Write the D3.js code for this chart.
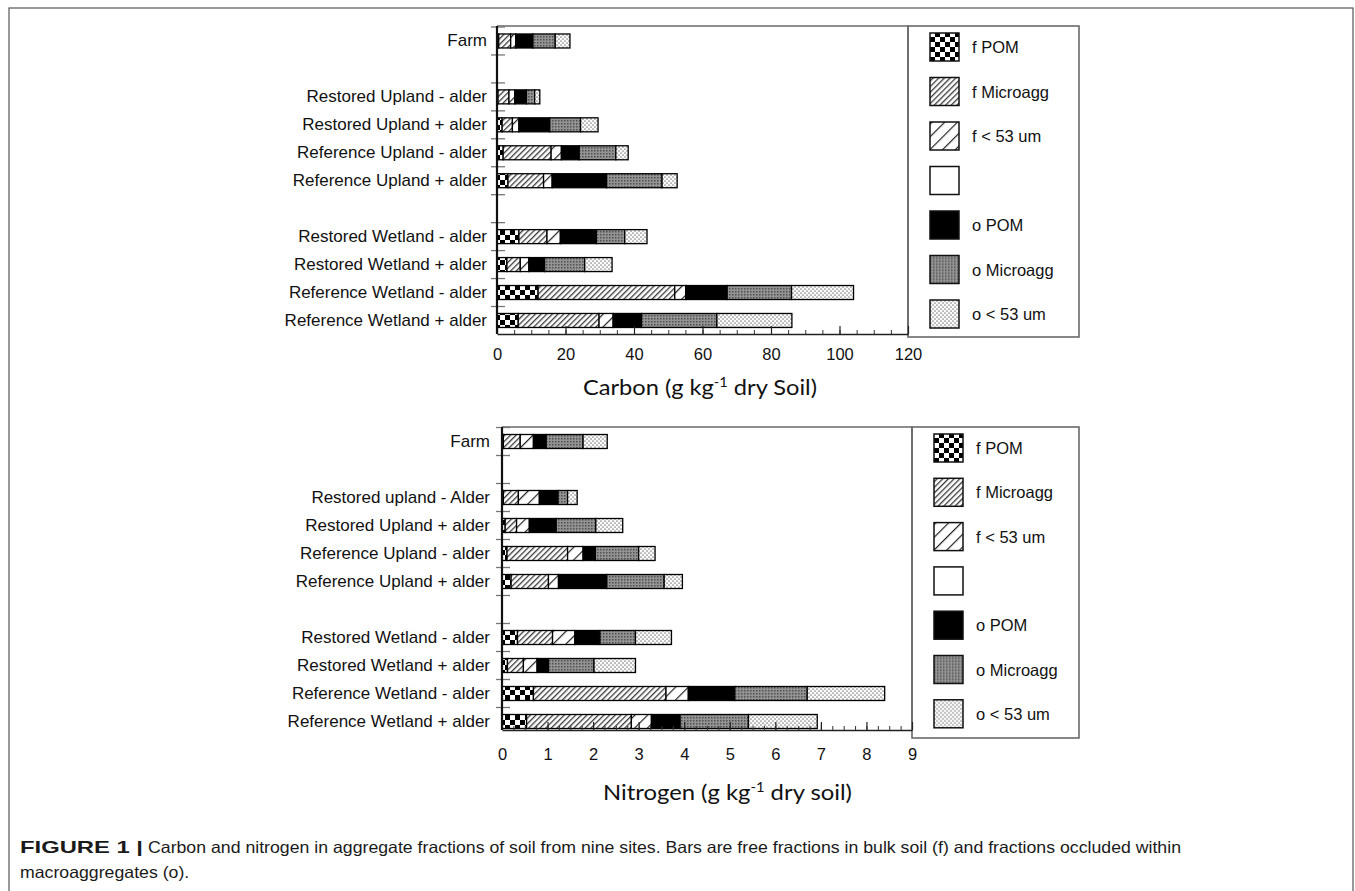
<!DOCTYPE html>
<html>
<head>
<meta charset="utf-8">
<script src="https://cdn.jsdelivr.net/npm/d3@7"></script>
<style>
  body { margin: 0; background: #fff; }
  svg { display: block; }
</style>
</head>
<body>
<svg id="fig" width="1355" height="891"></svg>
<script>
// ---- data -------------------------------------------------------------
const fractionKeys   = ["fPOM", "fMicro", "fSilt", "oPOM", "oMicro", "oSilt"];
const legendKeys     = ["fPOM", "fMicro", "fSilt", "blank", "oPOM", "oMicro", "oSilt"];
const legendLabels   = ["f POM", "f Microagg", "f < 53 um", "", "o POM", "o Microagg", "o < 53 um"];

// site groups (a blank row separates the groups)
const siteGroups = [[0], [1, 2, 3, 4], [5, 6, 7, 8]];

const carbonSites = ["Farm", "Restored Upland - alder", "Restored Upland + alder",
  "Reference Upland - alder", "Reference Upland + alder", "Restored Wetland - alder",
  "Restored Wetland + alder", "Reference Wetland - alder", "Reference Wetland + alder"];
const nitrogenSites = ["Farm", "Restored upland - Alder", "Restored Upland + alder",
  "Reference Upland - alder", "Reference Upland + alder", "Restored Wetland - alder",
  "Restored Wetland + alder", "Reference Wetland - alder", "Reference Wetland + alder"];

// carbon, g kg-1 dry soil
const carbonFPOM   = [0.5, 0.3, 1.5, 1.8, 3.2, 6.4, 2.9, 12.0, 6.2];
const carbonFMicro = [3.5, 3.2, 3.0, 14.0, 10.4, 8.2, 3.9, 39.9, 23.6];
const carbonFSilt  = [1.5, 1.7, 1.9, 3.0, 2.5, 3.9, 2.5, 3.2, 4.1];
const carbonOPOM   = [5.0, 3.4, 9.0, 5.2, 15.9, 10.5, 4.6, 12.1, 8.3];
const carbonOMicro = [6.5, 2.4, 9.0, 10.7, 16.2, 8.3, 11.7, 18.8, 22.0];
const carbonOSilt  = [4.3, 1.5, 5.1, 3.6, 4.4, 6.5, 8.0, 18.1, 21.9];

// nitrogen, g kg-1 dry soil
const nitrogenFPOM   = [0.03, 0.03, 0.07, 0.11, 0.20, 0.34, 0.12, 0.69, 0.54];
const nitrogenFMicro = [0.37, 0.33, 0.25, 1.33, 0.82, 0.77, 0.35, 2.91, 2.30];
const nitrogenFSilt  = [0.29, 0.46, 0.28, 0.34, 0.22, 0.49, 0.30, 0.49, 0.44];
const nitrogenOPOM   = [0.28, 0.41, 0.59, 0.27, 1.06, 0.55, 0.25, 1.02, 0.63];
const nitrogenOMicro = [0.81, 0.21, 0.87, 0.95, 1.26, 0.78, 1.00, 1.59, 1.50];
const nitrogenOSilt  = [0.53, 0.21, 0.59, 0.36, 0.40, 0.79, 0.91, 1.70, 1.51];

const carbonTicks   = [0, 20, 40, 60, 80, 100, 120];
const nitrogenTicks = [0, 1, 2, 3, 4, 5, 6, 7, 8, 9];

const captionBold = "FIGURE 1 |";
const captionLine1 = "Carbon and nitrogen in aggregate fractions of soil from nine sites. Bars are free fractions in bulk soil (f) and fractions occluded within";
const captionLine2 = "macroaggregates (o).";

// ---- drawing ----------------------------------------------------------
const svg = d3.select("#fig");
const LABEL_FONT = "'Liberation Sans', Arial, Helvetica, sans-serif";

// fill patterns for the six fractions
const defs = svg.append("defs");
function pattern(id, w, h, transform) {
  const p = defs.append("pattern").attr("id", "pat-" + id)
    .attr("patternUnits", "userSpaceOnUse").attr("width", w).attr("height", h);
  if (transform) p.attr("patternTransform", transform);
  return p;
}
{
  const p = pattern("fPOM", 10, 10);
  p.append("rect").attr("width", 10).attr("height", 10).attr("fill", "#fff");
  p.append("rect").attr("width", 5).attr("height", 5).attr("fill", "#000");
  p.append("rect").attr("x", 5).attr("y", 5).attr("width", 5).attr("height", 5).attr("fill", "#000");
}
{
  const p = pattern("fMicro", 4, 4, "rotate(45)");
  p.append("rect").attr("width", 4).attr("height", 4).attr("fill", "#fff");
  p.append("rect").attr("width", 1.3).attr("height", 4).attr("fill", "#3a3a3a");
}
{
  const p = pattern("fSilt", 9, 9, "rotate(45)");
  p.append("rect").attr("width", 9).attr("height", 9).attr("fill", "#fff");
  p.append("rect").attr("width", 1.2).attr("height", 9).attr("fill", "#222");
}
{
  const p = pattern("oPOM", 4, 4);
  p.append("rect").attr("width", 4).attr("height", 4).attr("fill", "#000");
}
{
  const p = pattern("oMicro", 3, 3);
  p.append("rect").attr("width", 3).attr("height", 3).attr("fill", "#939393");
  p.append("rect").attr("width", 1.5).attr("height", 1.5).attr("fill", "#505050");
}
{
  const p = pattern("oSilt", 4, 4);
  p.append("rect").attr("width", 4).attr("height", 4).attr("fill", "#fbfbfb");
  p.append("circle").attr("cx", 1).attr("cy", 1).attr("r", 0.85).attr("fill", "#8a8a8a");
  p.append("circle").attr("cx", 3).attr("cy", 3).attr("r", 0.85).attr("fill", "#8a8a8a");
}
{
  const p = pattern("blank", 4, 4);
  p.append("rect").attr("width", 4).attr("height", 4).attr("fill", "#fff");
}

// outer figure frame
svg.append("rect").attr("x", 9).attr("y", 8).attr("width", 1344).attr("height", 910)
  .attr("fill", "none").attr("stroke", "#555").attr("stroke-width", 1.2);

function drawPanel(cfg) {
  const g = svg.append("g");

  // row domain with a spacer row between the site groups
  const domain = [];
  siteGroups.forEach((grp, gi) => {
    if (gi > 0) domain.push("__gap" + gi);
    grp.forEach(i => domain.push(cfg.sites[i]));
  });
  const y = d3.scaleBand().domain(domain)
    .range([cfg.rowTop, cfg.rowTop + domain.length * cfg.rowStep]);
  const x = d3.scaleLinear().domain([0, d3.max(cfg.ticks)]).range([cfg.x0, cfg.x1]);

  const rows = cfg.sites.map((s, i) => {
    const r = { site: s };
    fractionKeys.forEach(k => { r[k] = cfg.values[k][i]; });
    return r;
  });
  const series = d3.stack().keys(fractionKeys)(rows);

  // plot frame (top and right edges) and legend box
  g.append("path")
    .attr("d", `M${cfg.x0},${cfg.frameTop}H${cfg.x1}V${cfg.axisY}`)
    .attr("fill", "none").attr("stroke", "#6a6a6a").attr("stroke-width", 1.6);
  g.append("rect")
    .attr("x", cfg.x1).attr("y", cfg.legendTop)
    .attr("width", cfg.legendRight - cfg.x1).attr("height", cfg.legendBottom - cfg.legendTop)
    .attr("fill", "none").attr("stroke", "#6a6a6a").attr("stroke-width", 1.6);

  // y-axis boundary ticks
  const bounds = d3.range(domain.length + 1).map(i => cfg.rowTop + i * cfg.rowStep)
    .filter(v => v < cfg.axisY - 3);
  g.selectAll("line.ytick").data(bounds).join("line")
    .attr("x1", cfg.x0 - 6).attr("x2", cfg.x0 + 8)
    .attr("y1", d => d).attr("y2", d => d)
    .attr("stroke", "#777").attr("stroke-width", 1.3);

  // stacked bars
  const barH = 14;
  g.selectAll("g.layer").data(series).join("g")
    .attr("fill", d => `url(#pat-${d.key})`)
    .selectAll("rect").data(d => d).join("rect")
    .attr("x", d => x(d[0]))
    .attr("width", d => x(d[1]) - x(d[0]))
    .attr("y", d => y(d.data.site) + (y.bandwidth() - barH) / 2)
    .attr("height", barH)
    .attr("stroke", "#000").attr("stroke-width", 1.3);

  // x axis: major and minor inward ticks
  const minor = d3.range(0, d3.max(cfg.ticks) + 1e-9, cfg.minorStep);
  const gMinor = g.append("g").attr("transform", `translate(0,${cfg.axisY})`)
    .call(d3.axisBottom(x).tickValues(minor).tickSize(-4).tickSizeOuter(0).tickFormat(""));
  gMinor.select(".domain").remove();
  gMinor.selectAll(".tick line").attr("stroke", "#333").attr("stroke-width", 1);

  const gx = g.append("g").attr("transform", `translate(0,${cfg.axisY})`)
    .call(d3.axisBottom(x).tickValues(cfg.ticks).tickSize(-8).tickSizeOuter(0)
      .tickPadding(cfg.tickPad).tickFormat(d3.format("d")));
  gx.select(".domain").attr("stroke", "#222").attr("stroke-width", 1.6);
  gx.selectAll(".tick line").attr("stroke", "#222").attr("stroke-width", 1.2);
  gx.selectAll(".tick text").attr("font-family", LABEL_FONT).attr("font-size", 16.5)
    .attr("fill", "#111");

  // y axis line
  g.append("line").attr("x1", cfg.x0).attr("x2", cfg.x0)
    .attr("y1", cfg.frameTop).attr("y2", cfg.axisY)
    .attr("stroke", "#111").attr("stroke-width", 2.2);

  // site labels
  g.selectAll("text.site").data(cfg.sites).join("text")
    .attr("x", cfg.x0 - cfg.labelGap)
    .attr("y", d => y(d) + y.bandwidth() / 2)
    .attr("text-anchor", "end").attr("dominant-baseline", "central")
    .attr("font-family", LABEL_FONT).attr("font-size", 17).attr("fill", "#111")
    .text(d => d);

  // legend
  const lg = g.selectAll("g.leg").data(legendKeys).join("g")
    .attr("transform", (d, i) => `translate(${cfg.x1 + 22},${cfg.legendTop + 21 + i * cfg.legendStep})`);
  lg.append("rect").attr("x", 0).attr("y", -14).attr("width", 29).attr("height", 28)
    .attr("fill", d => `url(#pat-${d})`).attr("stroke", "#111").attr("stroke-width", 1.5);
  lg.append("text").attr("x", 42).attr("y", 0).attr("dominant-baseline", "central")
    .attr("font-family", LABEL_FONT).attr("font-size", 16.5).attr("fill", "#111")
    .text((d, i) => legendLabels[i]);

  // axis title with superscript unit
  const t = g.append("text").attr("x", cfg.titleX).attr("y", cfg.titleY)
    .attr("font-family", "Lato, 'Open Sans', sans-serif").attr("font-size", 21).attr("fill", "#111");
  t.append("tspan").text(cfg.titleA);
  t.append("tspan").attr("font-size", 13).attr("dy", -8).text("-1");
  t.append("tspan").attr("dy", 8).text(cfg.titleB);
  const w = t.node().getComputedTextLength();
  if (w) t.attr("textLength", cfg.titleW).attr("lengthAdjust", "spacingAndGlyphs");
}

drawPanel({
  sites: carbonSites,
  values: { fPOM: carbonFPOM, fMicro: carbonFMicro, fSilt: carbonFSilt,
            oPOM: carbonOPOM, oMicro: carbonOMicro, oSilt: carbonOSilt },
  ticks: carbonTicks, minorStep: 5,
  x0: 497, x1: 908, rowTop: 27, rowStep: 27.95, frameTop: 26, axisY: 334,
  legendTop: 26, legendBottom: 337, legendRight: 1079, legendStep: 44.5,
  labelGap: 10, tickPad: 14,
  titleA: "Carbon (g kg", titleB: " dry Soil)", titleX: 583, titleY: 395, titleW: 234
});

drawPanel({
  sites: nitrogenSites,
  values: { fPOM: nitrogenFPOM, fMicro: nitrogenFMicro, fSilt: nitrogenFSilt,
            oPOM: nitrogenOPOM, oMicro: nitrogenOMicro, oSilt: nitrogenOSilt },
  ticks: nitrogenTicks, minorStep: 0.25,
  x0: 502, x1: 912, rowTop: 427.5, rowStep: 28, frameTop: 427, axisY: 730,
  legendTop: 427, legendBottom: 738, legendRight: 1079, legendStep: 44.3,
  labelGap: 12, tickPad: 18,
  titleA: "Nitrogen (g kg", titleB: " dry soil)", titleX: 603, titleY: 800, titleW: 249
});

// caption
const cap = svg.append("g").attr("font-family", LABEL_FONT).attr("font-size", 16.5).attr("fill", "#1a1a1a");
cap.append("text").attr("x", 20).attr("y", 853).attr("font-weight", "bold")
  .attr("textLength", 123).attr("lengthAdjust", "spacingAndGlyphs").text(captionBold);
const l1 = cap.append("text").attr("x", 148).attr("y", 853).text(captionLine1);
const nat1 = l1.node().getComputedTextLength();
const squeeze = nat1 ? 1033 / nat1 : 1;
l1.attr("textLength", 1033).attr("lengthAdjust", "spacingAndGlyphs");
const l2 = cap.append("text").attr("x", 20).attr("y", 878).text(captionLine2);
const nat2 = l2.node().getComputedTextLength();
if (nat2) l2.attr("textLength", nat2 * squeeze).attr("lengthAdjust", "spacingAndGlyphs");
</script>
</body>
</html>
